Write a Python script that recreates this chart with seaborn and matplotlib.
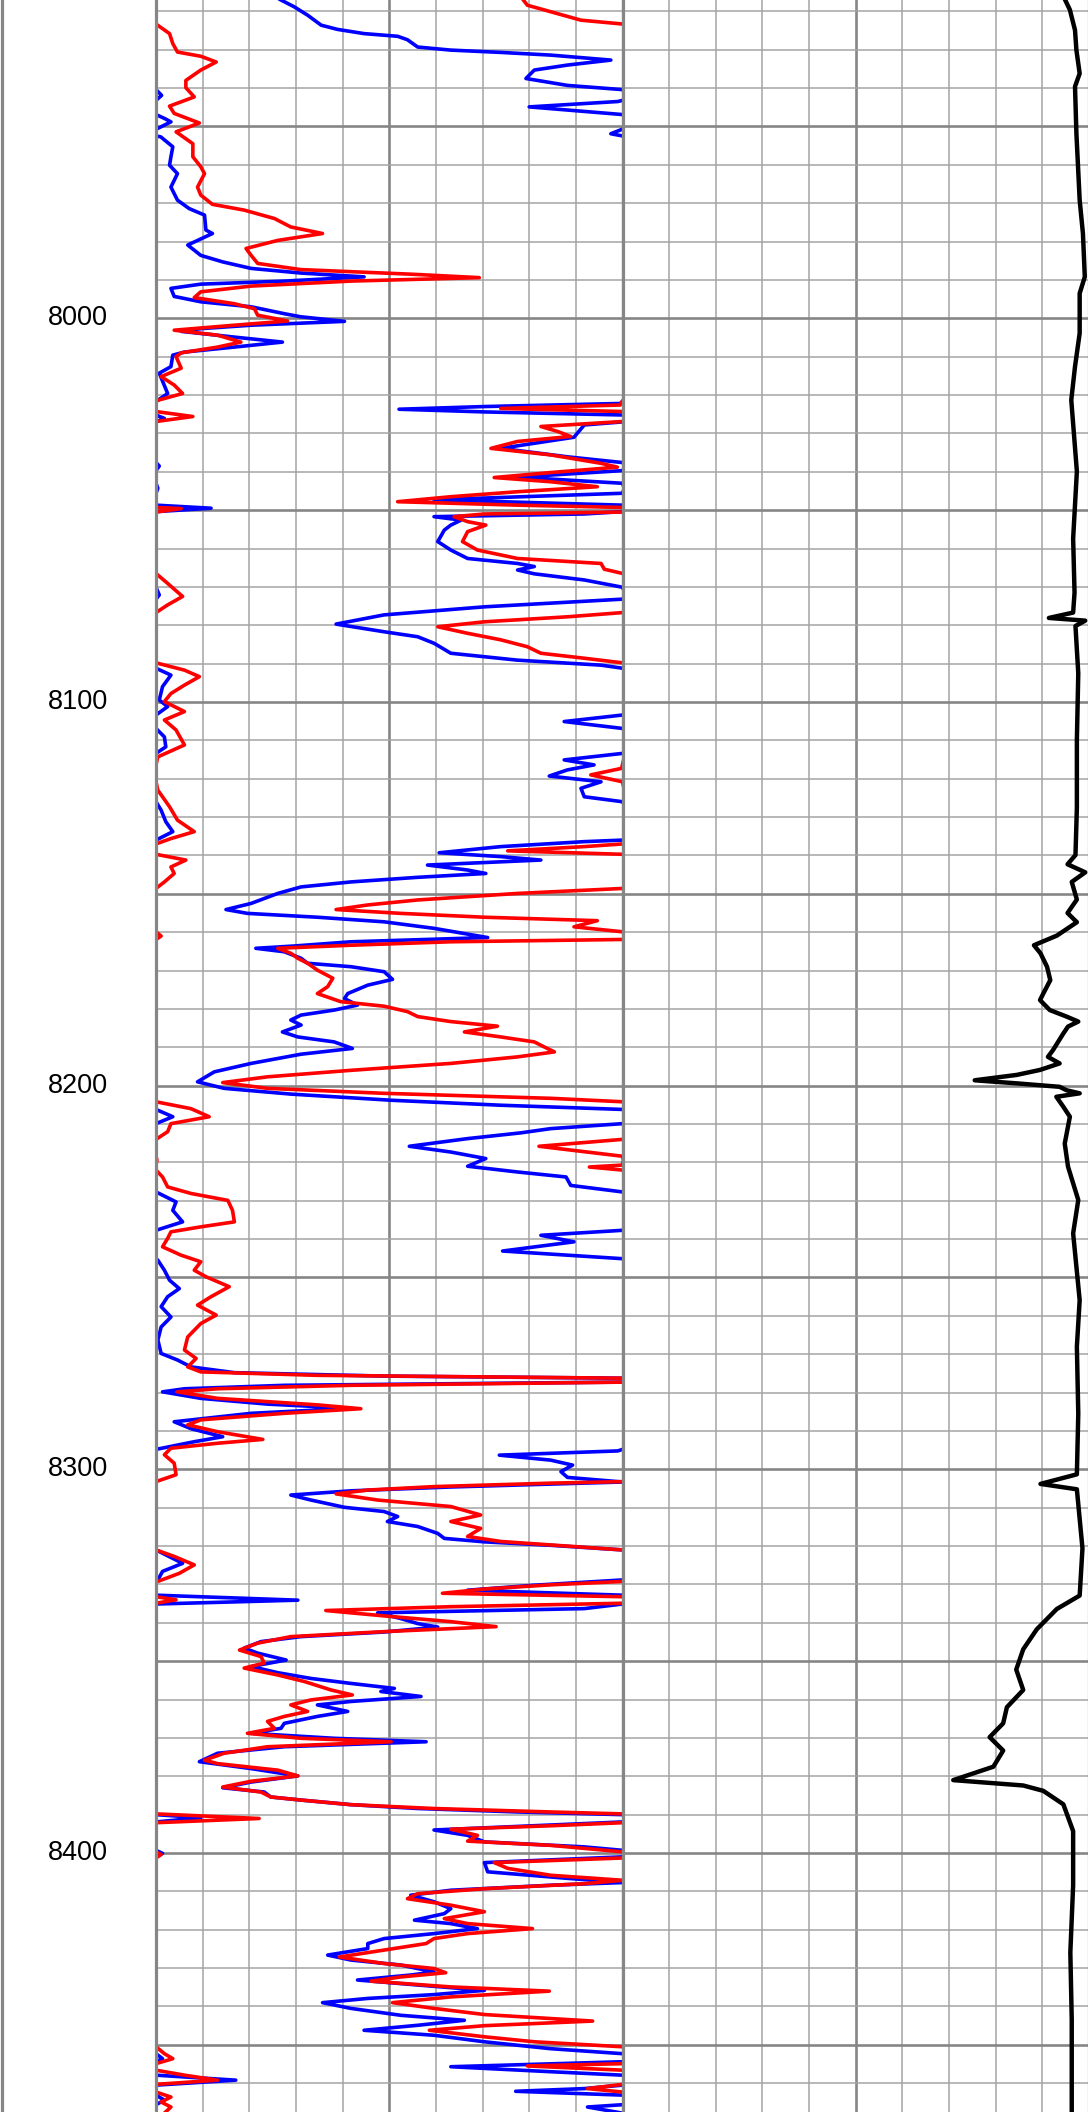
import numpy as np
import pandas as pd
import matplotlib
matplotlib.use("Agg")
import matplotlib.pyplot as plt
import matplotlib.transforms as mtransforms
import seaborn as sns

# ---------------- data (depth in ft, curve values in grid divisions 0-10, wrapped above 10) -------------
depth_labels = [8000, 8100, 8200, 8300, 8400]

blue_depth = [7916.8, 7918.8, 7921.0, 7923.6, 7924.7, 7925.8, 7926.5, 7927.4, 7929.3, 7930.1, 7930.7, 7931.4,
              7932.7, 7934.0, 7935.3, 7937.5, 7939.3, 7940.4, 7941.9, 7943.2, 7943.5, 7944.9, 7946.9, 7947.9,
              7948.8, 7950.5, 7951.9, 7952.7, 7955.3, 7957.9, 7960.1, 7962.3, 7965.8, 7969.2, 7971.4, 7973.1,
              7977.0, 7977.9, 7980.9, 7983.6, 7985.3, 7987.0, 7988.2, 7989.2, 7990.3, 7991.1, 7992.2, 7994.3,
              7995.7, 7997.0, 7998.8, 7999.6, 8000.8, 8001.8, 8002.7, 8003.4, 8004.9, 8006.2, 8007.5, 8008.8,
              8009.6, 8012.6, 8014.3, 8019.6, 8021.7, 8022.2, 8023.0, 8023.7, 8024.4, 8025.2, 8026.1, 8027.0,
              8027.8, 8031.0, 8033.9, 8036.1, 8037.6, 8038.5, 8039.7, 8041.4, 8043.0, 8044.3, 8045.6, 8047.3,
              8048.7, 8049.5, 8050.4, 8051.0, 8051.7, 8052.6, 8053.9, 8055.2, 8058.2, 8060.4, 8062.6, 8063.9,
              8064.7, 8065.6, 8066.6, 8068.2, 8070.1, 8072.1, 8073.2, 8075.2, 8077.3, 8079.7, 8081.7, 8083.0,
              8084.7, 8087.3, 8089.1, 8090.4, 8091.2, 8093.0, 8096.0, 8099.5,
              8101.2, 8103.4, 8105.1, 8106.9, 8109.1, 8111.7, 8113.4, 8115.1, 8116.4, 8117.7, 8119.3, 8120.8,
              8122.5, 8124.7, 8126.0, 8128.2, 8131.2, 8133.8, 8136.0, 8136.4, 8137.7, 8139.3, 8140.3, 8141.2,
              8142.5, 8143.8, 8144.7, 8145.7, 8146.9, 8148.2, 8149.9, 8152.5, 8154.1, 8155.1, 8156.1, 8157.3,
              8159.0, 8160.5, 8161.4, 8162.5, 8163.6, 8164.2, 8165.1, 8166.8, 8168.1, 8169.0, 8170.3, 8172.3,
              8173.8, 8176.0, 8177.3, 8179.0, 8180.3, 8181.6, 8182.9, 8184.2, 8186.0, 8187.3, 8188.6, 8190.3,
              8191.8, 8194.2, 8196.4, 8199.0, 8200.7, 8202.2, 8203.8, 8205.1, 8206.2, 8208.1, 8209.9, 8211.2,
              8212.3, 8213.8, 8215.8, 8217.3, 8219.0, 8221.0, 8222.5, 8223.8, 8226.0, 8227.7, 8230.3, 8232.5,
              8235.5, 8237.7, 8239.0, 8240.7, 8243.1, 8245.1, 8245.5, 8248.1, 8250.7, 8252.9, 8255.0, 8257.6,
              8260.3, 8262.9, 8266.3, 8269.8, 8271.5, 8273.3, 8274.8, 8275.7, 8276.3, 8277.2, 8278.1, 8279.0,
              8279.8, 8281.5, 8283.0, 8284.1, 8285.4, 8287.6, 8289.4, 8291.5, 8292.8, 8294.8, 8295.2, 8296.3,
              8297.6, 8298.9, 8300.6, 8302.1, 8303.3, 8304.6, 8305.6, 8306.7, 8308.0, 8309.9, 8311.0, 8312.3,
              8313.6, 8314.9, 8316.7, 8318.0, 8318.9, 8319.8, 8321.0, 8324.5, 8326.6, 8328.8, 8330.2, 8331.5,
              8332.8, 8334.1, 8335.1, 8336.3, 8337.4, 8338.9, 8340.2, 8341.1, 8342.4, 8343.6, 8344.9, 8346.6,
              8347.9, 8349.7, 8351.4, 8353.0, 8354.5, 8355.8, 8357.1, 8357.9, 8359.2, 8360.5, 8361.4, 8363.1,
              8364.4, 8366.2, 8367.5, 8368.8, 8370.1, 8371.0, 8372.3, 8374.0, 8376.2, 8378.0, 8379.9, 8381.5,
              8383.0, 8384.1, 8385.4, 8386.2, 8387.4, 8388.4, 8389.3, 8390.0, 8390.8, 8391.9, 8392.7, 8394.0,
              8395.4, 8397.1, 8398.4, 8399.3, 8400.1, 8401.0, 8402.5, 8404.9, 8406.6, 8407.7, 8408.4, 8409.7,
              8411.0, 8412.7, 8414.5, 8415.8, 8417.5, 8418.4, 8419.7, 8421.0, 8422.3, 8423.6, 8424.9, 8426.6,
              8427.9, 8429.2, 8431.0, 8431.8, 8433.1, 8434.4, 8435.8, 8436.9, 8437.9, 8439.0, 8440.5, 8442.3,
              8443.6, 8444.9, 8446.2, 8447.5, 8449.2, 8451.0, 8452.3, 8453.6, 8454.4, 8455.7, 8457.0, 8457.9,
              8459.2, 8460.5, 8461.4, 8462.1, 8463.1, 8464.4, 8465.6, 8466.2, 8467.8]
blue_val = [2.64, 2.96, 3.25, 3.54, 3.89, 4.46, 5.18, 5.39, 5.61, 6.32, 7.39, 8.46,
            9.75, 8.82, 8.11, 7.93, 8.82, 10.0, 10.12, 10.0, 9.9, 8.0, 10.0, 10.18,
            10.32, 10.04, 9.75, 10.1, 10.36, 10.32, 10.29, 10.46, 10.32, 10.46, 10.71, 11.04,
            11.07, 11.21, 10.68, 10.96, 11.43, 12.04, 13.1, 14.46, 12.75, 10.96, 10.32, 10.39,
            10.96, 12.04, 12.75, 13.1, 14.04, 12.04, 10.96, 10.54, 11.68, 12.71, 11.68, 10.61,
            10.36, 10.32, 10.07, 10.25, 10.0, 9.95, 7.04, 5.21, 7.04, 10.0, 10.18, 10.0,
            9.18, 8.96, 7.39, 8.82, 10.0, 10.07, 10.0, 7.75, 10.0, 10.04, 10.0, 5.96,
            10.0, 11.18, 10.0, 9.18, 5.96, 6.54, 6.32, 6.18, 6.04, 6.32, 6.68, 7.75,
            8.11, 7.75, 8.11, 9.18, 10.0, 10.07, 10.0, 7.04, 4.89, 3.86, 4.89, 5.61,
            5.96, 6.32, 7.75, 9.54, 10.0, 10.32, 10.14, 10.07,
            10.25, 10.0, 8.75, 10.0, 10.18, 10.21, 10.0, 8.75, 9.39, 8.82, 8.43, 9.54,
            9.11, 9.18, 10.0, 10.11, 10.21, 10.36, 10.0, 9.18, 7.39, 6.07, 7.39, 8.25,
            5.82, 6.68, 7.07, 5.61, 4.18, 3.11, 2.61, 2.04, 1.5, 1.96, 3.46, 4.89,
            5.96, 6.68, 7.11, 4.18, 2.96, 2.14, 2.75, 3.11, 3.25, 4.18, 4.89, 5.07,
            4.54, 4.11, 4.04, 4.32, 3.82, 3.11, 2.89, 3.11, 2.71, 3.04, 3.82, 4.21,
            3.11, 2.04, 1.25, 0.89, 1.46, 2.89, 5.04, 7.39, 10.0, 10.36, 10.0, 8.46,
            7.82, 6.68, 5.43, 6.32, 7.07, 6.68, 7.75, 8.79, 8.89, 10.0, 10.43, 10.36,
            10.57, 10.0, 8.25, 8.96, 7.43, 10.0, 10.04, 10.18, 10.29, 10.5, 10.25, 10.11,
            10.32, 10.11, 10.04, 10.11, 10.46, 10.75, 11.68, 14.9, 20.5, 20.5, 12.75, 10.61,
            10.14, 10.96, 12.39, 14.18, 12.04, 10.39, 10.75, 11.43, 10.82, 10.0, 9.9, 7.36,
            8.46, 8.93, 8.68, 8.82, 10.0, 6.32, 4.18, 2.89, 3.32, 4.04, 4.89, 5.18,
            4.96, 5.61, 6.04, 6.18, 7.04, 8.46, 10.0, 10.57, 10.14, 10.04, 8.11, 6.68,
            10.0, 13.04, 10.0, 9.18, 4.75, 5.25, 5.61, 6.04, 4.89, 3.11, 2.25, 1.89,
            2.18, 2.79, 2.04, 2.61, 3.32, 4.18, 5.11, 4.82, 5.68, 4.18, 3.46, 4.11,
            3.46, 2.75, 2.68, 2.04, 3.82, 5.79, 2.75, 1.32, 0.93, 2.04, 3.04, 2.04,
            1.43, 2.32, 2.46, 3.11, 4.18, 5.61, 7.75, 10.0, 10.96, 10.0, 8.46, 5.96,
            6.68, 7.04, 9.18, 10.0, 10.14, 10.0, 7.04, 7.11, 8.82, 10.0, 8.46, 6.32,
            5.46, 5.96, 6.32, 6.18, 5.54, 6.32, 6.89, 5.96, 4.89, 4.54, 4.54, 3.68,
            4.18, 5.25, 5.96, 5.46, 4.32, 5.61, 7.04, 5.96, 4.54, 3.57, 4.18, 5.25,
            6.61, 5.61, 4.46, 5.96, 7.04, 8.46, 10.0, 10.14, 10.0, 6.32, 8.46, 10.0,
            11.71, 10.0, 9.18, 7.71, 10.0, 10.18, 10.0, 9.25, 10.0]

red_depth = [7916.8, 7918.4, 7920.1, 7922.3, 7923.3, 7925.8, 7928.4, 7930.6, 7931.7, 7933.2, 7935.3, 7938.0,
             7939.9, 7942.3, 7944.7, 7946.6, 7949.1, 7951.4, 7954.5, 7957.9, 7960.5, 7962.3, 7965.8, 7967.9,
             7970.3, 7971.8, 7974.0, 7976.2, 7977.9, 7979.7, 7981.8, 7983.6, 7985.7, 7987.3, 7988.5, 7989.4,
             7990.3, 7991.6, 7993.1, 7994.6, 7996.2, 7997.5, 7999.2, 8000.7, 8001.8, 8003.1, 8004.4, 8006.2,
             8007.5, 8009.0, 8010.0, 8013.0, 8015.2, 8017.4, 8019.6, 8021.5, 8022.6, 8023.5, 8024.3, 8025.6,
             8026.9, 8028.2, 8029.5, 8030.8, 8032.1, 8033.9, 8035.6, 8037.8, 8038.8, 8040.2, 8041.5, 8042.6,
             8043.9, 8045.2, 8046.5, 8047.8, 8048.7, 8049.3, 8049.6, 8050.5, 8051.0, 8051.7, 8053.0, 8053.9,
             8055.6, 8058.2, 8060.4, 8062.6, 8063.9, 8065.4, 8066.5, 8069.1, 8072.5, 8074.7, 8076.7, 8077.8,
             8079.1, 8080.4, 8082.1, 8083.8, 8085.6, 8087.3, 8088.6, 8089.8, 8091.7, 8093.4, 8095.6, 8097.8,
             8099.9, 8102.5, 8104.7, 8107.3, 8111.2, 8114.3, 8117.3, 8119.0, 8120.8, 8123.0, 8127.3, 8130.8,
             8133.8, 8135.6, 8137.0, 8137.7, 8138.8, 8139.7, 8141.2, 8143.0, 8144.7, 8146.9, 8148.6, 8149.9,
             8151.6, 8152.9, 8154.1, 8155.1, 8156.1, 8157.0, 8158.6, 8159.9, 8161.0, 8161.9, 8162.5, 8163.4,
             8164.2, 8165.5, 8166.8, 8168.1, 8169.9, 8172.0, 8174.2, 8176.0, 8178.1, 8179.3, 8180.7, 8182.0,
             8183.3, 8184.5, 8186.0, 8187.3, 8188.6, 8189.9, 8191.2, 8192.5, 8194.2, 8196.0, 8197.7, 8199.2,
             8200.7, 8202.0, 8203.3, 8204.2, 8206.0, 8208.1, 8209.9, 8212.0, 8214.0, 8215.8, 8218.4, 8219.4,
             8220.7, 8221.2, 8222.0, 8223.8, 8226.4, 8228.1, 8229.9, 8232.5, 8235.5, 8236.8, 8238.1, 8239.8,
             8242.0, 8244.2, 8245.9, 8248.1, 8249.8, 8252.4, 8255.0, 8257.2, 8259.8, 8262.0, 8265.5, 8268.9,
             8271.1, 8273.3, 8274.6, 8275.5, 8276.3, 8277.2, 8278.1, 8279.0, 8279.8, 8281.5, 8283.2, 8284.2,
             8285.4, 8287.1, 8288.4, 8290.2, 8292.2, 8293.2, 8294.5, 8296.2, 8298.4, 8301.4, 8303.2, 8303.6,
             8304.5, 8305.4, 8306.4, 8308.0, 8309.7, 8311.9, 8313.6, 8315.4, 8317.5, 8318.8, 8320.0, 8321.0,
             8322.7, 8324.9, 8327.1, 8329.2, 8330.1, 8331.2, 8332.3, 8333.2, 8334.0, 8334.9, 8335.8, 8336.8,
             8338.2, 8339.7, 8341.0, 8342.3, 8343.6, 8345.3, 8347.1, 8348.8, 8350.5, 8351.8, 8353.6, 8355.3,
             8357.5, 8358.8, 8360.1, 8361.4, 8363.1, 8364.4, 8365.7, 8367.5, 8368.8, 8370.1, 8371.0, 8372.3,
             8374.0, 8375.8, 8376.7, 8378.4, 8379.9, 8381.3, 8382.8, 8384.1, 8385.4, 8386.2, 8387.4, 8388.4,
             8389.3, 8389.8, 8391.0, 8392.1, 8392.9, 8393.8, 8395.4, 8396.9, 8398.0, 8399.7, 8400.4, 8401.3,
             8402.5, 8404.0, 8405.8, 8407.1, 8408.0, 8409.3, 8410.6, 8411.9, 8413.6, 8415.3, 8417.1, 8418.4,
             8419.7, 8421.0, 8422.3, 8423.6, 8425.3, 8427.1, 8428.8, 8430.1, 8431.2, 8432.3, 8433.4, 8434.9,
             8436.0, 8437.5, 8439.0, 8440.5, 8442.1, 8443.8, 8445.0, 8446.2, 8447.9, 8449.2, 8450.5, 8452.3,
             8453.6, 8454.9, 8455.5, 8456.6, 8457.9, 8459.2, 8460.3, 8461.4, 8462.3, 8463.6, 8464.9, 8466.2,
             8467.8]
red_val = [7.86, 7.96, 8.46, 9.11, 10.0, 10.29, 10.36, 10.46, 10.96, 11.29, 10.96, 10.64,
           10.64, 10.82, 10.29, 10.39, 10.93, 10.43, 10.79, 10.79, 10.96, 11.04, 10.89, 10.96,
           11.21, 11.89, 12.54, 12.89, 13.57, 12.61, 11.93, 12.04, 12.18, 13.1, 15.46, 16.93,
           14.18, 12.04, 10.96, 10.82, 11.68, 12.11, 12.18, 12.82, 11.68, 10.39, 11.32, 11.82,
           11.32, 10.54, 10.43, 10.54, 10.11, 10.39, 10.57, 10.0, 9.95, 7.39, 10.0, 10.79,
           10.0, 8.25, 8.61, 8.89, 7.75, 7.18, 8.46, 9.54, 9.89, 8.46, 7.25, 8.46,
           9.46, 7.75, 6.32, 5.18, 7.75, 10.0, 10.54, 10.0, 7.04, 6.39, 6.68, 7.07,
           6.68, 6.57, 6.89, 7.75, 9.54, 9.61, 10.0, 10.25, 10.57, 10.25, 10.0, 8.82,
           7.04, 6.04, 6.68, 7.39, 7.96, 8.25, 9.18, 10.0, 10.61, 10.93, 10.61, 10.32,
           10.18, 10.61, 10.18, 10.43, 10.61, 10.04, 9.98, 9.32, 10.0, 10.04, 10.29, 10.46,
           10.82, 10.32, 10.0, 9.18, 7.54, 10.0, 10.64, 10.32, 10.39, 10.18, 10.0, 7.75,
           5.61, 4.54, 3.86, 5.25, 7.04, 9.46, 8.96, 10.0, 10.11, 10.0, 6.32, 4.18,
           2.61, 2.89, 3.04, 3.25, 3.46, 3.79, 3.68, 3.46, 3.96, 4.89, 5.39, 5.61,
           6.32, 7.32, 6.61, 7.39, 8.11, 8.32, 8.54, 7.75, 6.32, 4.18, 2.39, 1.43,
           2.39, 4.89, 8.46, 10.0, 10.75, 11.14, 10.32, 10.25, 10.0, 8.21, 10.0, 10.02,
           10.0, 9.29, 10.0, 10.14, 10.25, 10.75, 11.54, 11.64, 11.68, 10.96, 10.32, 10.25,
           10.14, 10.54, 10.96, 10.82, 11.07, 11.57, 11.18, 10.89, 11.29, 10.96, 10.68, 10.61,
           10.86, 10.68, 10.96, 13.46, 20.5, 20.5, 14.18, 11.32, 10.46, 11.32, 13.46, 14.39,
           12.75, 10.96, 10.68, 11.32, 12.29, 11.32, 10.32, 10.18, 10.39, 10.43, 10.0, 8.46,
           5.96, 4.54, 3.86, 4.75, 6.32, 6.96, 6.32, 6.96, 6.68, 7.39, 8.82, 10.0,
           10.39, 10.82, 10.5, 10.04, 8.46, 7.04, 6.14, 10.0, 10.43, 10.0, 6.32, 3.64,
           4.89, 6.32, 7.29, 4.89, 2.89, 2.18, 1.79, 2.25, 2.32, 1.89, 2.61, 3.18,
           3.75, 4.21, 3.32, 2.89, 3.25, 2.75, 2.39, 2.54, 1.96, 3.11, 5.04, 2.39,
           1.46, 1.04, 1.32, 2.61, 3.04, 2.04, 1.43, 2.25, 2.46, 3.11, 4.18, 5.96,
           8.46, 10.0, 12.21, 10.0, 8.46, 6.32, 6.89, 6.68, 8.46, 10.0, 10.11, 10.0,
           7.25, 7.54, 8.46, 10.0, 9.18, 7.04, 5.61, 5.39, 6.32, 7.04, 6.18, 6.68,
           8.07, 6.68, 5.96, 5.79, 4.89, 3.93, 4.89, 5.96, 6.21, 5.25, 4.61, 6.32,
           8.43, 6.32, 5.07, 5.96, 7.04, 9.36, 7.04, 5.86, 7.04, 8.11, 10.0, 10.18,
           10.36, 10.0, 7.96, 10.0, 10.61, 11.32, 10.0, 9.25, 10.0, 10.32, 10.11, 10.32,
           10.18]

black_depth = [7916.8, 7919.6, 7924.9, 7930.1, 7936.2, 7939.6, 7951.8, 7969.2, 7977.9, 7989.2, 7993.5, 8003.9,
               8012.6, 8021.3, 8039.9, 8057.4, 8071.5, 8076.7, 8078.1, 8078.8, 8080.2, 8092.5, 8110.0, 8127.6,
               8139.9, 8142.3, 8144.4, 8146.9, 8151.5, 8155.0, 8157.4, 8160.9, 8163.4, 8165.5, 8169.0, 8172.5,
               8176.0, 8177.7, 8180.3, 8182.0, 8183.3, 8184.6, 8186.4, 8190.7, 8192.5, 8194.2, 8195.9, 8197.2,
               8198.6, 8199.4, 8200.3, 8201.2, 8202.0, 8202.9, 8205.5, 8208.1, 8215.1, 8221.1, 8229.8, 8238.5,
               8247.2, 8255.9, 8268.0, 8285.5, 8301.3, 8303.8, 8305.2, 8320.6, 8332.9, 8336.4, 8341.7, 8346.9,
               8352.2, 8357.5, 8362.0, 8366.2, 8369.8, 8373.3, 8377.5, 8381.0, 8382.4, 8383.8, 8387.3, 8394.3,
               8408.4, 8425.9, 8443.4, 8467.8]
black_val = [9.48, 9.59, 9.70, 9.73, 9.80, 9.70, 9.73, 9.80, 9.87, 9.91, 9.80, 9.80,
             9.70, 9.62, 9.74, 9.66, 9.69, 9.66, 9.14, 9.92, 9.71, 9.77, 9.74, 9.74,
             9.71, 9.54, 9.92, 9.63, 9.74, 9.54, 9.74, 9.31, 8.82, 8.96, 9.10, 9.17,
             9.02, 8.95, 9.16, 9.52, 9.77, 9.55, 9.45, 9.23, 9.12, 9.37, 8.95, 8.45,
             7.55, 8.45, 9.37, 9.52, 9.80, 9.30, 9.45, 9.59, 9.48, 9.55, 9.77, 9.66,
             9.73, 9.80, 9.74, 9.77, 9.74, 8.96, 9.74, 9.86, 9.80, 9.31, 8.88, 8.59,
             8.44, 8.59, 8.24, 8.16, 7.87, 8.16, 7.95, 7.09, 8.59, 9.02, 9.45, 9.66,
             9.66, 9.60, 9.63, 9.63]

# ---------------- figure -------------
sns.set_style("white")
plt.rcParams["font.family"] = ["Liberation Sans", "DejaVu Sans"]

W, H = 1088.0, 2112.0
TOP, BOT = 7917.04, 8467.5
GRID_MINOR = "#a4a4a4"
GRID_MAJOR = "#868686"

fig = plt.figure(figsize=(W / 100, H / 100), dpi=100)
fig.patch.set_facecolor("white")

ax_d = fig.add_axes([1.5 / W, 0, (156 - 1.5) / W, 1])
ax1 = fig.add_axes([156 / W, 0, 466.5 / W, 1])
ax2 = fig.add_axes([622.5 / W, 0, 466.5 / W, 1])


def style_track(ax):
    ax.set_xlim(0, 10)
    ax.set_ylim(BOT, TOP)
    ax.set_xticks(np.arange(0, 11, 5))
    ax.set_xticks(np.arange(0, 11, 1), minor=True)
    ax.set_yticks(np.arange(7950, 8500, 50))
    ax.set_yticks(np.arange(7920, 8470, 10), minor=True)
    ax.grid(which="minor", color=GRID_MINOR, lw=1.1)
    ax.grid(which="major", color=GRID_MAJOR, lw=1.9)
    ax.tick_params(which="both", length=0, labelbottom=False, labelleft=False)
    for s in ["top", "bottom"]:
        ax.spines[s].set_visible(False)
    for s in ["left", "right"]:
        ax.spines[s].set_color(GRID_MAJOR)
        ax.spines[s].set_linewidth(2.3)
    ax.set_axisbelow(True)
    ax.set_facecolor("white")


style_track(ax1)
style_track(ax2)

blue = pd.DataFrame({"depth": blue_depth, "val": blue_val})
red = pd.DataFrame({"depth": red_depth, "val": red_val})
black = pd.DataFrame({"depth": black_depth, "val": black_val})

# wrapped (backup) presentation: each curve drawn at value and value-10, clipped by the track
for df, col in [(blue, "#0000ff"), (red, "#ff0000")]:
    for shift in (0, 10):
        sns.lineplot(x=df["val"] - shift, y=df["depth"], sort=False, estimator=None, orient="y",
                     ax=ax1, color=col, lw=2.6, legend=False)

sns.lineplot(x=black["val"], y=black["depth"], sort=False, estimator=None, orient="y",
             ax=ax2, color="black", lw=3.2, legend=False)

for ax in (ax1, ax2):
    ax.set_xlabel("")
    ax.set_ylabel("")
    ax.set_xlim(0, 10)
    ax.set_ylim(BOT, TOP)

# depth track
ax_d.set_xlim(0, 1)
ax_d.set_ylim(BOT, TOP)
ax_d.set_xticks([])
ax_d.set_yticks([])
for s in ["top", "bottom", "right"]:
    ax_d.spines[s].set_visible(False)
ax_d.spines["left"].set_color(GRID_MAJOR)
ax_d.spines["left"].set_linewidth(2.3)
trans = mtransforms.blended_transform_factory(ax_d.transAxes, ax_d.transData)
for d in depth_labels:
    ax_d.text(0.495, d, str(d), transform=trans, ha="center", va="center",
              fontsize=19.5, color="black")

fig.savefig("out.png", dpi=100)
